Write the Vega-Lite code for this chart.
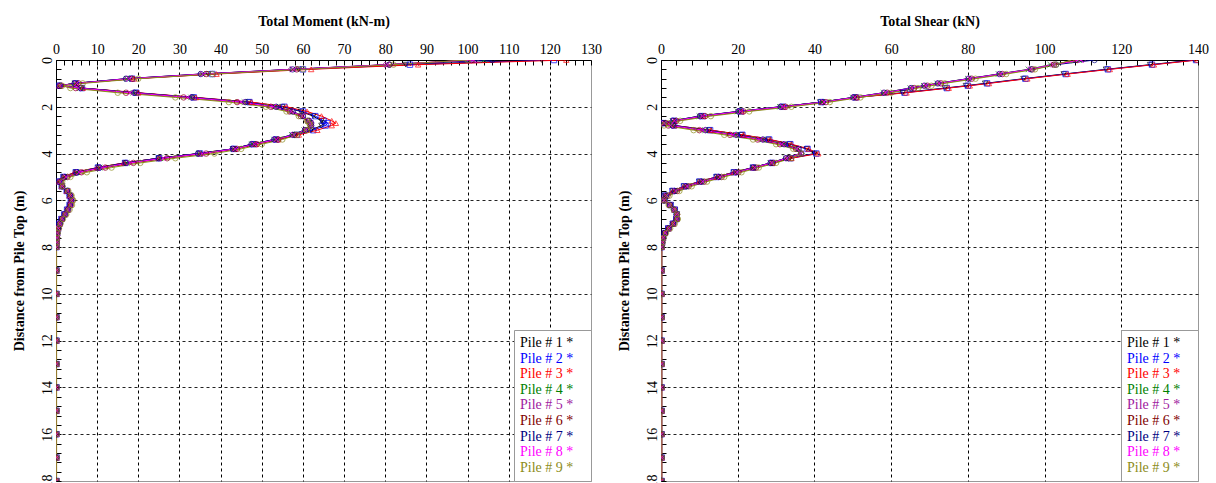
{
"$schema": "https://vega.github.io/schema/vega-lite/v6.json",
"padding": {"left": 11, "top": 13, "right": 2, "bottom": 0},
"config": {"view": {"stroke": "#999", "strokeWidth": 1}, "font": "Liberation Serif", "background": "white"},
"datasets": {"piles": [
{"p":1,"d":0,"m":118,"s":139},{"p":1,"d":0.2,"m":85,"s":127.5},{"p":1,"d":0.4,"m":59,"s":116},{"p":1,"d":0.6,"m":37,"s":105},{"p":1,"d":0.8,"m":18,"s":94.5},{"p":1,"d":1,"m":4.6,"s":84.5},{"p":1,"d":1.1,"m":0.8,"s":79.5},{"p":1,"d":1.2,"m":6.2,"s":74},{"p":1,"d":1.4,"m":19.3,"s":63},{"p":1,"d":1.6,"m":33.2,"s":50.5},{"p":1,"d":1.8,"m":46.8,"s":41.5},{"p":1,"d":2,"m":55,"s":31.5},{"p":1,"d":2.2,"m":59.5,"s":20.5},{"p":1,"d":2.4,"m":62.5,"s":10.5},{"p":1,"d":2.6,"m":64.5,"s":3.3},{"p":1,"d":2.7,"m":65,"s":0.6},{"p":1,"d":2.8,"m":64.5,"s":3.3},{"p":1,"d":3,"m":62,"s":12.6},{"p":1,"d":3.2,"m":58,"s":21},{"p":1,"d":3.4,"m":53.5,"s":28},{"p":1,"d":3.6,"m":48,"s":33.5},{"p":1,"d":3.8,"m":43,"s":38},{"p":1,"d":4,"m":34.8,"s":40},{"p":1,"d":4.2,"m":25,"s":33.6},{"p":1,"d":4.4,"m":16.8,"s":28.8},{"p":1,"d":4.6,"m":10.3,"s":24},{"p":1,"d":4.8,"m":4.9,"s":19},{"p":1,"d":5,"m":1.9,"s":14.5},{"p":1,"d":5.2,"m":0.7,"s":10},{"p":1,"d":5.4,"m":1.5,"s":6},{"p":1,"d":5.6,"m":2.7,"s":3},{"p":1,"d":5.8,"m":3.4,"s":1},{"p":1,"d":6,"m":3.7,"s":1},{"p":1,"d":6.2,"m":3.4,"s":2.5},{"p":1,"d":6.4,"m":2.8,"s":3.6},{"p":1,"d":6.6,"m":2.1,"s":4.1},{"p":1,"d":6.8,"m":1.4,"s":4},{"p":1,"d":7,"m":0.9,"s":3.1},{"p":1,"d":7.2,"m":0.5,"s":1.9},{"p":1,"d":7.4,"m":0.3,"s":1},{"p":1,"d":7.6,"m":0.2,"s":0.5},{"p":1,"d":7.8,"m":0.15,"s":0.3},{"p":1,"d":8,"m":0.1,"s":0.15},{"p":1,"d":9,"m":0.1,"s":0.15},{"p":1,"d":10,"m":0.1,"s":0.15},{"p":1,"d":11,"m":0.1,"s":0.15},{"p":1,"d":12,"m":0.1,"s":0.15},{"p":1,"d":13,"m":0.1,"s":0.15},{"p":1,"d":14,"m":0.1,"s":0.15},{"p":1,"d":15,"m":0.1,"s":0.15},{"p":1,"d":16,"m":0.1,"s":0.15},{"p":1,"d":17,"m":0.1,"s":0.15},{"p":1,"d":18,"m":0.1,"s":0.15},
{"p":2,"d":0,"m":121,"s":139.5},{"p":2,"d":0.2,"m":86,"s":128},{"p":2,"d":0.4,"m":60,"s":116.5},{"p":2,"d":0.6,"m":38,"s":105.5},{"p":2,"d":0.8,"m":18.5,"s":95},{"p":2,"d":1,"m":4.8,"s":85},{"p":2,"d":1.1,"m":0.8,"s":80},{"p":2,"d":1.2,"m":6.3,"s":74.5},{"p":2,"d":1.4,"m":19.5,"s":63.5},{"p":2,"d":1.6,"m":33.5,"s":50.8},{"p":2,"d":1.8,"m":47,"s":41.8},{"p":2,"d":2,"m":55.5,"s":31.8},{"p":2,"d":2.2,"m":60,"s":20.8},{"p":2,"d":2.4,"m":63,"s":10.8},{"p":2,"d":2.6,"m":65,"s":3.4},{"p":2,"d":2.7,"m":66,"s":0.7},{"p":2,"d":2.8,"m":65.5,"s":3.4},{"p":2,"d":3,"m":62.5,"s":12.8},{"p":2,"d":3.2,"m":58.5,"s":21.2},{"p":2,"d":3.4,"m":53.5,"s":28.2},{"p":2,"d":3.6,"m":48,"s":33.7},{"p":2,"d":3.8,"m":43.2,"s":38.2},{"p":2,"d":4,"m":35,"s":40.5},{"p":2,"d":4.2,"m":25,"s":33.8},{"p":2,"d":4.4,"m":16.8,"s":28.9},{"p":2,"d":4.6,"m":10.2,"s":24},{"p":2,"d":4.8,"m":4.8,"s":19},{"p":2,"d":5,"m":1.8,"s":14.5},{"p":2,"d":5.2,"m":0.7,"s":10},{"p":2,"d":5.4,"m":1.4,"s":6},{"p":2,"d":5.6,"m":2.6,"s":3},{"p":2,"d":5.8,"m":3.3,"s":1},{"p":2,"d":6,"m":3.6,"s":1},{"p":2,"d":6.2,"m":3.3,"s":2.5},{"p":2,"d":6.4,"m":2.7,"s":3.6},{"p":2,"d":6.6,"m":2,"s":4.1},{"p":2,"d":6.8,"m":1.3,"s":4},{"p":2,"d":7,"m":0.8,"s":3.1},{"p":2,"d":7.2,"m":0.5,"s":1.9},{"p":2,"d":7.4,"m":0.3,"s":1},{"p":2,"d":7.6,"m":0.2,"s":0.5},{"p":2,"d":7.8,"m":0.15,"s":0.3},{"p":2,"d":8,"m":0.1,"s":0.15},{"p":2,"d":9,"m":0.1,"s":0.15},{"p":2,"d":10,"m":0.1,"s":0.15},{"p":2,"d":11,"m":0.1,"s":0.15},{"p":2,"d":12,"m":0.1,"s":0.15},{"p":2,"d":13,"m":0.1,"s":0.15},{"p":2,"d":14,"m":0.1,"s":0.15},{"p":2,"d":15,"m":0.1,"s":0.15},{"p":2,"d":16,"m":0.1,"s":0.15},{"p":2,"d":17,"m":0.1,"s":0.15},{"p":2,"d":18,"m":0.1,"s":0.15},
{"p":3,"d":0,"m":124,"s":140},{"p":3,"d":0.2,"m":88,"s":128.5},{"p":3,"d":0.4,"m":62,"s":117},{"p":3,"d":0.6,"m":39,"s":106},{"p":3,"d":0.8,"m":19,"s":95.5},{"p":3,"d":1,"m":5,"s":85.5},{"p":3,"d":1.1,"m":0.8,"s":80.5},{"p":3,"d":1.2,"m":6.5,"s":75},{"p":3,"d":1.4,"m":20,"s":64},{"p":3,"d":1.6,"m":34,"s":51},{"p":3,"d":1.8,"m":47.5,"s":42},{"p":3,"d":2,"m":56,"s":32},{"p":3,"d":2.2,"m":61,"s":21},{"p":3,"d":2.4,"m":64.5,"s":11},{"p":3,"d":2.6,"m":67,"s":3.5},{"p":3,"d":2.7,"m":68,"s":0.8},{"p":3,"d":2.8,"m":67,"s":3.5},{"p":3,"d":3,"m":63.5,"s":13},{"p":3,"d":3.2,"m":59,"s":21.5},{"p":3,"d":3.4,"m":54,"s":28.5},{"p":3,"d":3.6,"m":48.5,"s":34},{"p":3,"d":3.8,"m":43.5,"s":38.5},{"p":3,"d":4,"m":35,"s":41},{"p":3,"d":4.2,"m":25,"s":34},{"p":3,"d":4.4,"m":16.5,"s":29},{"p":3,"d":4.6,"m":10,"s":24},{"p":3,"d":4.8,"m":4.5,"s":19},{"p":3,"d":5,"m":1.7,"s":14.5},{"p":3,"d":5.2,"m":0.6,"s":10},{"p":3,"d":5.4,"m":1.4,"s":6},{"p":3,"d":5.6,"m":2.6,"s":3},{"p":3,"d":5.8,"m":3.3,"s":1},{"p":3,"d":6,"m":3.6,"s":1},{"p":3,"d":6.2,"m":3.3,"s":2.5},{"p":3,"d":6.4,"m":2.7,"s":3.6},{"p":3,"d":6.6,"m":2,"s":4.1},{"p":3,"d":6.8,"m":1.3,"s":4},{"p":3,"d":7,"m":0.8,"s":3.1},{"p":3,"d":7.2,"m":0.5,"s":1.9},{"p":3,"d":7.4,"m":0.3,"s":1},{"p":3,"d":7.6,"m":0.2,"s":0.5},{"p":3,"d":7.8,"m":0.15,"s":0.3},{"p":3,"d":8,"m":0.1,"s":0.15},{"p":3,"d":9,"m":0.1,"s":0.15},{"p":3,"d":10,"m":0.1,"s":0.15},{"p":3,"d":11,"m":0.1,"s":0.15},{"p":3,"d":12,"m":0.1,"s":0.15},{"p":3,"d":13,"m":0.1,"s":0.15},{"p":3,"d":14,"m":0.1,"s":0.15},{"p":3,"d":15,"m":0.1,"s":0.15},{"p":3,"d":16,"m":0.1,"s":0.15},{"p":3,"d":17,"m":0.1,"s":0.15},{"p":3,"d":18,"m":0.1,"s":0.15},
{"p":4,"d":0,"m":104,"s":109},{"p":4,"d":0.2,"m":80.5,"s":101.5},{"p":4,"d":0.4,"m":57.5,"s":95.8},{"p":4,"d":0.6,"m":35.5,"s":88},{"p":4,"d":0.8,"m":17.2,"s":80},{"p":4,"d":1,"m":4.6,"s":72},{"p":4,"d":1.1,"m":0.8,"s":68.5},{"p":4,"d":1.2,"m":5.8,"s":65},{"p":4,"d":1.4,"m":18.8,"s":58},{"p":4,"d":1.6,"m":32.8,"s":50},{"p":4,"d":1.8,"m":45.8,"s":42},{"p":4,"d":2,"m":53.3,"s":31},{"p":4,"d":2.2,"m":57.3,"s":20},{"p":4,"d":2.4,"m":59.8,"s":10},{"p":4,"d":2.6,"m":61.3,"s":3},{"p":4,"d":2.7,"m":61.8,"s":0.5},{"p":4,"d":2.8,"m":61.8,"s":3},{"p":4,"d":3,"m":60.3,"s":11.5},{"p":4,"d":3.2,"m":57.3,"s":19.5},{"p":4,"d":3.4,"m":53,"s":26.5},{"p":4,"d":3.6,"m":47.6,"s":32},{"p":4,"d":3.8,"m":43.2,"s":35.8},{"p":4,"d":4,"m":34.8,"s":36.5},{"p":4,"d":4.2,"m":25.3,"s":32.5},{"p":4,"d":4.4,"m":17.2,"s":28.5},{"p":4,"d":4.6,"m":10.6,"s":24},{"p":4,"d":4.8,"m":5.1,"s":19.5},{"p":4,"d":5,"m":2.1,"s":15},{"p":4,"d":5.2,"m":0.8,"s":10.5},{"p":4,"d":5.4,"m":1.5,"s":6.5},{"p":4,"d":5.6,"m":2.7,"s":3.5},{"p":4,"d":5.8,"m":3.4,"s":1.2},{"p":4,"d":6,"m":3.7,"s":0.8},{"p":4,"d":6.2,"m":3.4,"s":2.4},{"p":4,"d":6.4,"m":2.8,"s":3.5},{"p":4,"d":6.6,"m":2.1,"s":4.1},{"p":4,"d":6.8,"m":1.4,"s":4},{"p":4,"d":7,"m":0.9,"s":3.1},{"p":4,"d":7.2,"m":0.5,"s":1.9},{"p":4,"d":7.4,"m":0.3,"s":1},{"p":4,"d":7.6,"m":0.2,"s":0.5},{"p":4,"d":7.8,"m":0.15,"s":0.3},{"p":4,"d":8,"m":0.1,"s":0.15},{"p":4,"d":9,"m":0.1,"s":0.15},{"p":4,"d":10,"m":0.1,"s":0.15},{"p":4,"d":11,"m":0.1,"s":0.15},{"p":4,"d":12,"m":0.1,"s":0.15},{"p":4,"d":13,"m":0.1,"s":0.15},{"p":4,"d":14,"m":0.1,"s":0.15},{"p":4,"d":15,"m":0.1,"s":0.15},{"p":4,"d":16,"m":0.1,"s":0.15},{"p":4,"d":17,"m":0.1,"s":0.15},{"p":4,"d":18,"m":0.1,"s":0.15},
{"p":5,"d":0,"m":102,"s":110},{"p":5,"d":0.2,"m":80,"s":102},{"p":5,"d":0.4,"m":57,"s":96},{"p":5,"d":0.6,"m":35,"s":88},{"p":5,"d":0.8,"m":17,"s":80},{"p":5,"d":1,"m":4.5,"s":72},{"p":5,"d":1.1,"m":0.8,"s":68.5},{"p":5,"d":1.2,"m":6,"s":65},{"p":5,"d":1.4,"m":19,"s":58},{"p":5,"d":1.6,"m":33,"s":50},{"p":5,"d":1.8,"m":46,"s":42},{"p":5,"d":2,"m":53.5,"s":31},{"p":5,"d":2.2,"m":57.5,"s":20},{"p":5,"d":2.4,"m":60,"s":10},{"p":5,"d":2.6,"m":61.5,"s":3},{"p":5,"d":2.7,"m":62,"s":0.5},{"p":5,"d":2.8,"m":62,"s":3},{"p":5,"d":3,"m":60.5,"s":11.5},{"p":5,"d":3.2,"m":57.5,"s":19.5},{"p":5,"d":3.4,"m":53,"s":26.5},{"p":5,"d":3.6,"m":47.5,"s":32},{"p":5,"d":3.8,"m":43,"s":35.8},{"p":5,"d":4,"m":34.5,"s":36.5},{"p":5,"d":4.2,"m":25,"s":32.5},{"p":5,"d":4.4,"m":17,"s":28.5},{"p":5,"d":4.6,"m":10.5,"s":24},{"p":5,"d":4.8,"m":5,"s":19.5},{"p":5,"d":5,"m":2,"s":15},{"p":5,"d":5.2,"m":0.8,"s":10.5},{"p":5,"d":5.4,"m":1.5,"s":6.5},{"p":5,"d":5.6,"m":2.7,"s":3.5},{"p":5,"d":5.8,"m":3.4,"s":1.2},{"p":5,"d":6,"m":3.7,"s":0.8},{"p":5,"d":6.2,"m":3.4,"s":2.4},{"p":5,"d":6.4,"m":2.8,"s":3.5},{"p":5,"d":6.6,"m":2.1,"s":4.1},{"p":5,"d":6.8,"m":1.4,"s":4},{"p":5,"d":7,"m":0.9,"s":3.1},{"p":5,"d":7.2,"m":0.5,"s":1.9},{"p":5,"d":7.4,"m":0.3,"s":1},{"p":5,"d":7.6,"m":0.2,"s":0.5},{"p":5,"d":7.8,"m":0.15,"s":0.3},{"p":5,"d":8,"m":0.1,"s":0.15},{"p":5,"d":9,"m":0.1,"s":0.15},{"p":5,"d":10,"m":0.1,"s":0.15},{"p":5,"d":11,"m":0.1,"s":0.15},{"p":5,"d":12,"m":0.1,"s":0.15},{"p":5,"d":13,"m":0.1,"s":0.15},{"p":5,"d":14,"m":0.1,"s":0.15},{"p":5,"d":15,"m":0.1,"s":0.15},{"p":5,"d":16,"m":0.1,"s":0.15},{"p":5,"d":17,"m":0.1,"s":0.15},{"p":5,"d":18,"m":0.1,"s":0.15},
{"p":6,"d":0,"m":101,"s":108.5},{"p":6,"d":0.2,"m":81,"s":102.5},{"p":6,"d":0.4,"m":58.5,"s":96.8},{"p":6,"d":0.6,"m":36.5,"s":89},{"p":6,"d":0.8,"m":18.5,"s":81},{"p":6,"d":1,"m":5.5,"s":73},{"p":6,"d":1.1,"m":1.2,"s":69.5},{"p":6,"d":1.2,"m":4.8,"s":66},{"p":6,"d":1.4,"m":17,"s":59},{"p":6,"d":1.6,"m":31,"s":51},{"p":6,"d":1.8,"m":44,"s":43},{"p":6,"d":2,"m":52.2,"s":32.5},{"p":6,"d":2.2,"m":56.8,"s":21.5},{"p":6,"d":2.4,"m":59.5,"s":11.5},{"p":6,"d":2.6,"m":61.2,"s":4},{"p":6,"d":2.7,"m":61.8,"s":1.2},{"p":6,"d":2.8,"m":61.9,"s":1.9},{"p":6,"d":3,"m":60.8,"s":10},{"p":6,"d":3.2,"m":58,"s":18},{"p":6,"d":3.4,"m":54,"s":25.2},{"p":6,"d":3.6,"m":48.8,"s":31},{"p":6,"d":3.8,"m":44,"s":35.2},{"p":6,"d":4,"m":36.5,"s":36.5},{"p":6,"d":4.2,"m":27,"s":33.2},{"p":6,"d":4.4,"m":18.8,"s":29.2},{"p":6,"d":4.6,"m":12,"s":24.8},{"p":6,"d":4.8,"m":6.2,"s":20.2},{"p":6,"d":5,"m":2.8,"s":15.8},{"p":6,"d":5.2,"m":1.2,"s":11.2},{"p":6,"d":5.4,"m":1.5,"s":7.2},{"p":6,"d":5.6,"m":2.8,"s":4.2},{"p":6,"d":5.8,"m":3.6,"s":1.7},{"p":6,"d":6,"m":4,"s":0.8},{"p":6,"d":6.2,"m":3.6,"s":2.2},{"p":6,"d":6.4,"m":3,"s":3.4},{"p":6,"d":6.6,"m":2.3,"s":4.2},{"p":6,"d":6.8,"m":1.5,"s":4.2},{"p":6,"d":7,"m":1,"s":3.3},{"p":6,"d":7.2,"m":0.6,"s":2.1},{"p":6,"d":7.4,"m":0.35,"s":1.1},{"p":6,"d":7.6,"m":0.25,"s":0.6},{"p":6,"d":7.8,"m":0.18,"s":0.35},{"p":6,"d":8,"m":0.12,"s":0.18},{"p":6,"d":9,"m":0.12,"s":0.18},{"p":6,"d":10,"m":0.12,"s":0.18},{"p":6,"d":11,"m":0.12,"s":0.18},{"p":6,"d":12,"m":0.12,"s":0.18},{"p":6,"d":13,"m":0.12,"s":0.18},{"p":6,"d":14,"m":0.12,"s":0.18},{"p":6,"d":15,"m":0.12,"s":0.18},{"p":6,"d":16,"m":0.12,"s":0.18},{"p":6,"d":17,"m":0.12,"s":0.18},{"p":6,"d":18,"m":0.12,"s":0.18},
{"p":7,"d":0,"m":106,"s":113},{"p":7,"d":0.2,"m":81,"s":103},{"p":7,"d":0.4,"m":57.5,"s":96.5},{"p":7,"d":0.6,"m":35.2,"s":88.3},{"p":7,"d":0.8,"m":17,"s":80.2},{"p":7,"d":1,"m":4.5,"s":72.2},{"p":7,"d":1.1,"m":0.8,"s":68.7},{"p":7,"d":1.2,"m":6,"s":65.2},{"p":7,"d":1.4,"m":19,"s":58.2},{"p":7,"d":1.6,"m":33,"s":50.2},{"p":7,"d":1.8,"m":46,"s":42.2},{"p":7,"d":2,"m":53.5,"s":31.2},{"p":7,"d":2.2,"m":57.5,"s":20.2},{"p":7,"d":2.4,"m":60,"s":10.2},{"p":7,"d":2.6,"m":61.5,"s":3.1},{"p":7,"d":2.7,"m":62,"s":0.5},{"p":7,"d":2.8,"m":62,"s":3.1},{"p":7,"d":3,"m":60.5,"s":11.6},{"p":7,"d":3.2,"m":57.5,"s":19.6},{"p":7,"d":3.4,"m":53,"s":26.6},{"p":7,"d":3.6,"m":47.5,"s":32.1},{"p":7,"d":3.8,"m":43,"s":35.9},{"p":7,"d":4,"m":34.5,"s":36.6},{"p":7,"d":4.2,"m":25,"s":32.6},{"p":7,"d":4.4,"m":17,"s":28.6},{"p":7,"d":4.6,"m":10.5,"s":24.1},{"p":7,"d":4.8,"m":5,"s":19.6},{"p":7,"d":5,"m":2,"s":15.1},{"p":7,"d":5.2,"m":0.8,"s":10.6},{"p":7,"d":5.4,"m":1.5,"s":6.6},{"p":7,"d":5.6,"m":2.7,"s":3.6},{"p":7,"d":5.8,"m":3.4,"s":1.3},{"p":7,"d":6,"m":3.7,"s":0.8},{"p":7,"d":6.2,"m":3.4,"s":2.4},{"p":7,"d":6.4,"m":2.8,"s":3.5},{"p":7,"d":6.6,"m":2.1,"s":4.1},{"p":7,"d":6.8,"m":1.4,"s":4},{"p":7,"d":7,"m":0.9,"s":3.1},{"p":7,"d":7.2,"m":0.5,"s":1.9},{"p":7,"d":7.4,"m":0.3,"s":1},{"p":7,"d":7.6,"m":0.2,"s":0.5},{"p":7,"d":7.8,"m":0.15,"s":0.3},{"p":7,"d":8,"m":0.1,"s":0.15},{"p":7,"d":9,"m":0.1,"s":0.15},{"p":7,"d":10,"m":0.1,"s":0.15},{"p":7,"d":11,"m":0.1,"s":0.15},{"p":7,"d":12,"m":0.1,"s":0.15},{"p":7,"d":13,"m":0.1,"s":0.15},{"p":7,"d":14,"m":0.1,"s":0.15},{"p":7,"d":15,"m":0.1,"s":0.15},{"p":7,"d":16,"m":0.1,"s":0.15},{"p":7,"d":17,"m":0.1,"s":0.15},{"p":7,"d":18,"m":0.1,"s":0.15},
{"p":8,"d":0,"m":101.5,"s":109.5},{"p":8,"d":0.2,"m":80.5,"s":102.3},{"p":8,"d":0.4,"m":57.8,"s":96.4},{"p":8,"d":0.6,"m":35.8,"s":88.5},{"p":8,"d":0.8,"m":17.8,"s":80.5},{"p":8,"d":1,"m":5,"s":72.5},{"p":8,"d":1.1,"m":1,"s":69},{"p":8,"d":1.2,"m":5.4,"s":65.5},{"p":8,"d":1.4,"m":18,"s":58.5},{"p":8,"d":1.6,"m":32,"s":50.5},{"p":8,"d":1.8,"m":45,"s":42.5},{"p":8,"d":2,"m":52.8,"s":31.8},{"p":8,"d":2.2,"m":57.2,"s":20.8},{"p":8,"d":2.4,"m":59.8,"s":10.8},{"p":8,"d":2.6,"m":61.4,"s":3.5},{"p":8,"d":2.7,"m":61.9,"s":0.8},{"p":8,"d":2.8,"m":62,"s":2.5},{"p":8,"d":3,"m":60.6,"s":10.8},{"p":8,"d":3.2,"m":57.8,"s":18.8},{"p":8,"d":3.4,"m":53.5,"s":25.8},{"p":8,"d":3.6,"m":48.2,"s":31.5},{"p":8,"d":3.8,"m":43.5,"s":35.5},{"p":8,"d":4,"m":35.5,"s":36.5},{"p":8,"d":4.2,"m":26,"s":32.8},{"p":8,"d":4.4,"m":17.9,"s":28.8},{"p":8,"d":4.6,"m":11.2,"s":24.4},{"p":8,"d":4.8,"m":5.6,"s":19.8},{"p":8,"d":5,"m":2.4,"s":15.4},{"p":8,"d":5.2,"m":1,"s":10.8},{"p":8,"d":5.4,"m":1.5,"s":6.8},{"p":8,"d":5.6,"m":2.8,"s":3.8},{"p":8,"d":5.8,"m":3.5,"s":1.4},{"p":8,"d":6,"m":3.8,"s":0.8},{"p":8,"d":6.2,"m":3.5,"s":2.3},{"p":8,"d":6.4,"m":2.9,"s":3.5},{"p":8,"d":6.6,"m":2.2,"s":4.1},{"p":8,"d":6.8,"m":1.4,"s":4.1},{"p":8,"d":7,"m":0.9,"s":3.2},{"p":8,"d":7.2,"m":0.55,"s":2},{"p":8,"d":7.4,"m":0.32,"s":1.05},{"p":8,"d":7.6,"m":0.22,"s":0.55},{"p":8,"d":7.8,"m":0.16,"s":0.32},{"p":8,"d":8,"m":0.11,"s":0.16},{"p":8,"d":9,"m":0.11,"s":0.16},{"p":8,"d":10,"m":0.11,"s":0.16},{"p":8,"d":11,"m":0.11,"s":0.16},{"p":8,"d":12,"m":0.11,"s":0.16},{"p":8,"d":13,"m":0.11,"s":0.16},{"p":8,"d":14,"m":0.11,"s":0.16},{"p":8,"d":15,"m":0.11,"s":0.16},{"p":8,"d":16,"m":0.11,"s":0.16},{"p":8,"d":17,"m":0.11,"s":0.16},{"p":8,"d":18,"m":0.11,"s":0.16},
{"p":9,"d":0,"m":100,"s":107},{"p":9,"d":0.2,"m":82,"s":103},{"p":9,"d":0.4,"m":60,"s":97.5},{"p":9,"d":0.6,"m":38,"s":90},{"p":9,"d":0.8,"m":20,"s":82},{"p":9,"d":1,"m":6.5,"s":74},{"p":9,"d":1.1,"m":1.5,"s":70.5},{"p":9,"d":1.2,"m":3.5,"s":67},{"p":9,"d":1.4,"m":15,"s":60},{"p":9,"d":1.6,"m":29,"s":52},{"p":9,"d":1.8,"m":42,"s":44},{"p":9,"d":2,"m":51,"s":34},{"p":9,"d":2.2,"m":56,"s":23},{"p":9,"d":2.4,"m":59,"s":13},{"p":9,"d":2.6,"m":61,"s":5},{"p":9,"d":2.7,"m":61.5,"s":2},{"p":9,"d":2.8,"m":61.8,"s":0.8},{"p":9,"d":3,"m":61,"s":8.5},{"p":9,"d":3.2,"m":58.5,"s":16.5},{"p":9,"d":3.4,"m":55,"s":24},{"p":9,"d":3.6,"m":50,"s":30},{"p":9,"d":3.8,"m":45,"s":34.5},{"p":9,"d":4,"m":38.5,"s":36.5},{"p":9,"d":4.2,"m":29,"s":34},{"p":9,"d":4.4,"m":20.5,"s":30},{"p":9,"d":4.6,"m":13.5,"s":25.5},{"p":9,"d":4.8,"m":7.5,"s":21},{"p":9,"d":5,"m":3.5,"s":16.5},{"p":9,"d":5.2,"m":1.5,"s":12},{"p":9,"d":5.4,"m":1.6,"s":8},{"p":9,"d":5.6,"m":3,"s":4.8},{"p":9,"d":5.8,"m":3.8,"s":2.2},{"p":9,"d":6,"m":4.2,"s":0.8},{"p":9,"d":6.2,"m":3.9,"s":2},{"p":9,"d":6.4,"m":3.3,"s":3.3},{"p":9,"d":6.6,"m":2.5,"s":4.2},{"p":9,"d":6.8,"m":1.7,"s":4.4},{"p":9,"d":7,"m":1.1,"s":3.6},{"p":9,"d":7.2,"m":0.7,"s":2.4},{"p":9,"d":7.4,"m":0.4,"s":1.3},{"p":9,"d":7.6,"m":0.3,"s":0.7},{"p":9,"d":7.8,"m":0.2,"s":0.4},{"p":9,"d":8,"m":0.15,"s":0.2},{"p":9,"d":9,"m":0.15,"s":0.2},{"p":9,"d":10,"m":0.15,"s":0.2},{"p":9,"d":11,"m":0.15,"s":0.2},{"p":9,"d":12,"m":0.15,"s":0.2},{"p":9,"d":13,"m":0.15,"s":0.2},{"p":9,"d":14,"m":0.15,"s":0.2},{"p":9,"d":15,"m":0.15,"s":0.2},{"p":9,"d":16,"m":0.15,"s":0.2},{"p":9,"d":17,"m":0.15,"s":0.2},{"p":9,"d":18,"m":0.15,"s":0.2}
]},
"data": {"name": "piles"},
"spacing": 70,
"bounds": "flush",
"resolve": {"legend": {"color": "independent"}},
"hconcat": [
{
"width": 535, "height": 421,
"encoding": {
 "x": {"field": "m", "type": "quantitative", "scale": {"domain": [0, 130], "nice": false, "zero": false},
  "axis": {"orient": "top", "title": "Total Moment (kN-m)", "titleFont": "Liberation Serif", "titleFontSize": 14, "titleFontWeight": "bold", "titleColor": "#000", "titlePadding": 14,
   "values": [0,2,4,6,8,10,12,14,16,18,20,22,24,26,28,30,32,34,36,38,40,42,44,46,48,50,52,54,56,58,60,62,64,66,68,70,72,74,76,78,80,82,84,86,88,90,92,94,96,98,100,102,104,106,108,110,112,114,116,118,120,122,124,126,128,130],
   "labelExpr": "datum.value % 10 === 0 ? datum.label : ''", "labelOverlap": false, "labelFlush": false, "labelFont": "Liberation Serif", "labelFontSize": 14, "labelColor": "#000", "labelPadding": 9,
   "tickSize": -5, "tickColor": "#000", "domainColor": "#000",
   "grid": true, "gridColor": "#000", "gridDash": [3, 3], "gridOpacity": {"condition": {"test": "datum.value % 10 === 0 && datum.value > 0 && datum.value < 130", "value": 1}, "value": 0}}},
 "y": {"field": "d", "type": "quantitative", "scale": {"domain": [0, 18], "reverse": true, "nice": false},
  "axis": {"orient": "left", "title": "Distance from Pile Top (m)", "titleFont": "Liberation Serif", "titleFontSize": 14, "titleFontWeight": "bold", "titleColor": "#000", "titlePadding": 14,
   "values": [0,0.4,0.8,1.2,1.6,2,2.4,2.8,3.2,3.6,4,4.4,4.8,5.2,5.6,6,6.4,6.8,7.2,7.6,8,8.4,8.8,9.2,9.6,10,10.4,10.8,11.2,11.6,12,12.4,12.8,13.2,13.6,14,14.4,14.8,15.2,15.6,16,16.4,16.8,17.2,17.6,18],
   "labelExpr": "datum.value % 2 === 0 ? format(datum.value, 'd') : ''", "labelOverlap": false, "labelFlush": false, "labelAngle": 270, "labelFont": "Liberation Serif", "labelFontSize": 14, "labelColor": "#000", "labelPadding": 7,
   "tickSize": -5, "tickColor": "#000", "domainColor": "#000",
   "grid": true, "gridColor": "#222", "gridDash": [3, 3], "gridOpacity": {"condition": {"test": "datum.value % 2 === 0 && datum.value > 0 && datum.value < 18", "value": 1}, "value": 0}}},
 "color": {"field": "p", "type": "nominal",
  "scale": {"domain": [1,2,3,4,5,6,7,8,9], "range": ["#000000","#0000ff","#ff0000","#008000","#a020a0","#800000","#000080","#ff00ff","#8c8c1a"]},
  "legend": {"orient": "bottom-right", "offset": 0, "title": " ", "titleOrient": "right", "titlePadding": 12, "titleFontSize": 6, "labelExpr": "'Pile # ' + datum.label + ' *'", "labelFont": "Liberation Serif", "labelFontSize": 14, "symbolType": "circle", "symbolOpacity": 0, "symbolSize": 0, "symbolStrokeWidth": 0, "labelOffset": -14, "fillColor": "#fff", "strokeColor": "#999", "padding": 6, "rowPadding": 1.6,
   "encode": {"labels": {"update": {"fill": {"scale": "color", "field": "value"}}}}}}
},
"layer": [
 {"mark": {"type": "line", "strokeWidth": 1, "clip": true}, "encoding": {"order": {"field": "d", "type": "quantitative"}}},
 {"mark": {"type": "point", "filled": false, "size": 30, "strokeWidth": 1, "clip": true},
  "encoding": {"shape": {"field": "p", "type": "nominal", "legend": null, "scale": {"domain": [1,2,3,4,5,6,7,8,9], "range": ["triangle-down","square","triangle-up","M-1,-1L1,1M-1,1L1,-1","diamond","circle","circle","M-1,-1L1,1M-1,1L1,-1","circle"]}}}}
]
},
{
"width": 537, "height": 421,
"encoding": {
 "x": {"field": "s", "type": "quantitative", "scale": {"domain": [0, 140], "nice": false, "zero": false},
  "axis": {"orient": "top", "title": "Total Shear (kN)", "titleFont": "Liberation Serif", "titleFontSize": 14, "titleFontWeight": "bold", "titleColor": "#000", "titlePadding": 14,
   "values": [0,4,8,12,16,20,24,28,32,36,40,44,48,52,56,60,64,68,72,76,80,84,88,92,96,100,104,108,112,116,120,124,128,132,136,140],
   "labelExpr": "datum.value % 20 === 0 ? datum.label : ''", "labelOverlap": false, "labelFlush": false, "labelFont": "Liberation Serif", "labelFontSize": 14, "labelColor": "#000", "labelPadding": 9,
   "tickSize": -5, "tickColor": "#000", "domainColor": "#000",
   "grid": true, "gridColor": "#000", "gridDash": [3, 3], "gridOpacity": {"condition": {"test": "datum.value % 20 === 0 && datum.value > 0 && datum.value < 140", "value": 1}, "value": 0}}},
 "y": {"field": "d", "type": "quantitative", "scale": {"domain": [0, 18], "reverse": true, "nice": false},
  "axis": {"orient": "left", "title": "Distance from Pile Top (m)", "titleFont": "Liberation Serif", "titleFontSize": 14, "titleFontWeight": "bold", "titleColor": "#000", "titlePadding": 14,
   "values": [0,0.4,0.8,1.2,1.6,2,2.4,2.8,3.2,3.6,4,4.4,4.8,5.2,5.6,6,6.4,6.8,7.2,7.6,8,8.4,8.8,9.2,9.6,10,10.4,10.8,11.2,11.6,12,12.4,12.8,13.2,13.6,14,14.4,14.8,15.2,15.6,16,16.4,16.8,17.2,17.6,18],
   "labelExpr": "datum.value % 2 === 0 ? format(datum.value, 'd') : ''", "labelOverlap": false, "labelFlush": false, "labelAngle": 270, "labelFont": "Liberation Serif", "labelFontSize": 14, "labelColor": "#000", "labelPadding": 7,
   "tickSize": -5, "tickColor": "#000", "domainColor": "#000",
   "grid": true, "gridColor": "#222", "gridDash": [3, 3], "gridOpacity": {"condition": {"test": "datum.value % 2 === 0 && datum.value > 0 && datum.value < 18", "value": 1}, "value": 0}}},
 "color": {"field": "p", "type": "nominal",
  "scale": {"domain": [1,2,3,4,5,6,7,8,9], "range": ["#000000","#0000ff","#ff0000","#008000","#a020a0","#800000","#000080","#ff00ff","#8c8c1a"]},
  "legend": {"orient": "bottom-right", "offset": 0, "title": " ", "titleOrient": "right", "titlePadding": 12, "titleFontSize": 6, "labelExpr": "'Pile # ' + datum.label + ' *'", "labelFont": "Liberation Serif", "labelFontSize": 14, "symbolType": "circle", "symbolOpacity": 0, "symbolSize": 0, "symbolStrokeWidth": 0, "labelOffset": -14, "fillColor": "#fff", "strokeColor": "#999", "padding": 6, "rowPadding": 1.6,
   "encode": {"labels": {"update": {"fill": {"scale": "color", "field": "value"}}}}}}
},
"layer": [
 {"mark": {"type": "line", "strokeWidth": 1, "clip": true}, "encoding": {"order": {"field": "d", "type": "quantitative"}}},
 {"mark": {"type": "point", "filled": false, "size": 30, "strokeWidth": 1, "clip": true},
  "encoding": {"shape": {"field": "p", "type": "nominal", "legend": null, "scale": {"domain": [1,2,3,4,5,6,7,8,9], "range": ["triangle-down","square","triangle-up","M-1,-1L1,1M-1,1L1,-1","diamond","circle","circle","M-1,-1L1,1M-1,1L1,-1","circle"]}}}}
]
}
]
}
